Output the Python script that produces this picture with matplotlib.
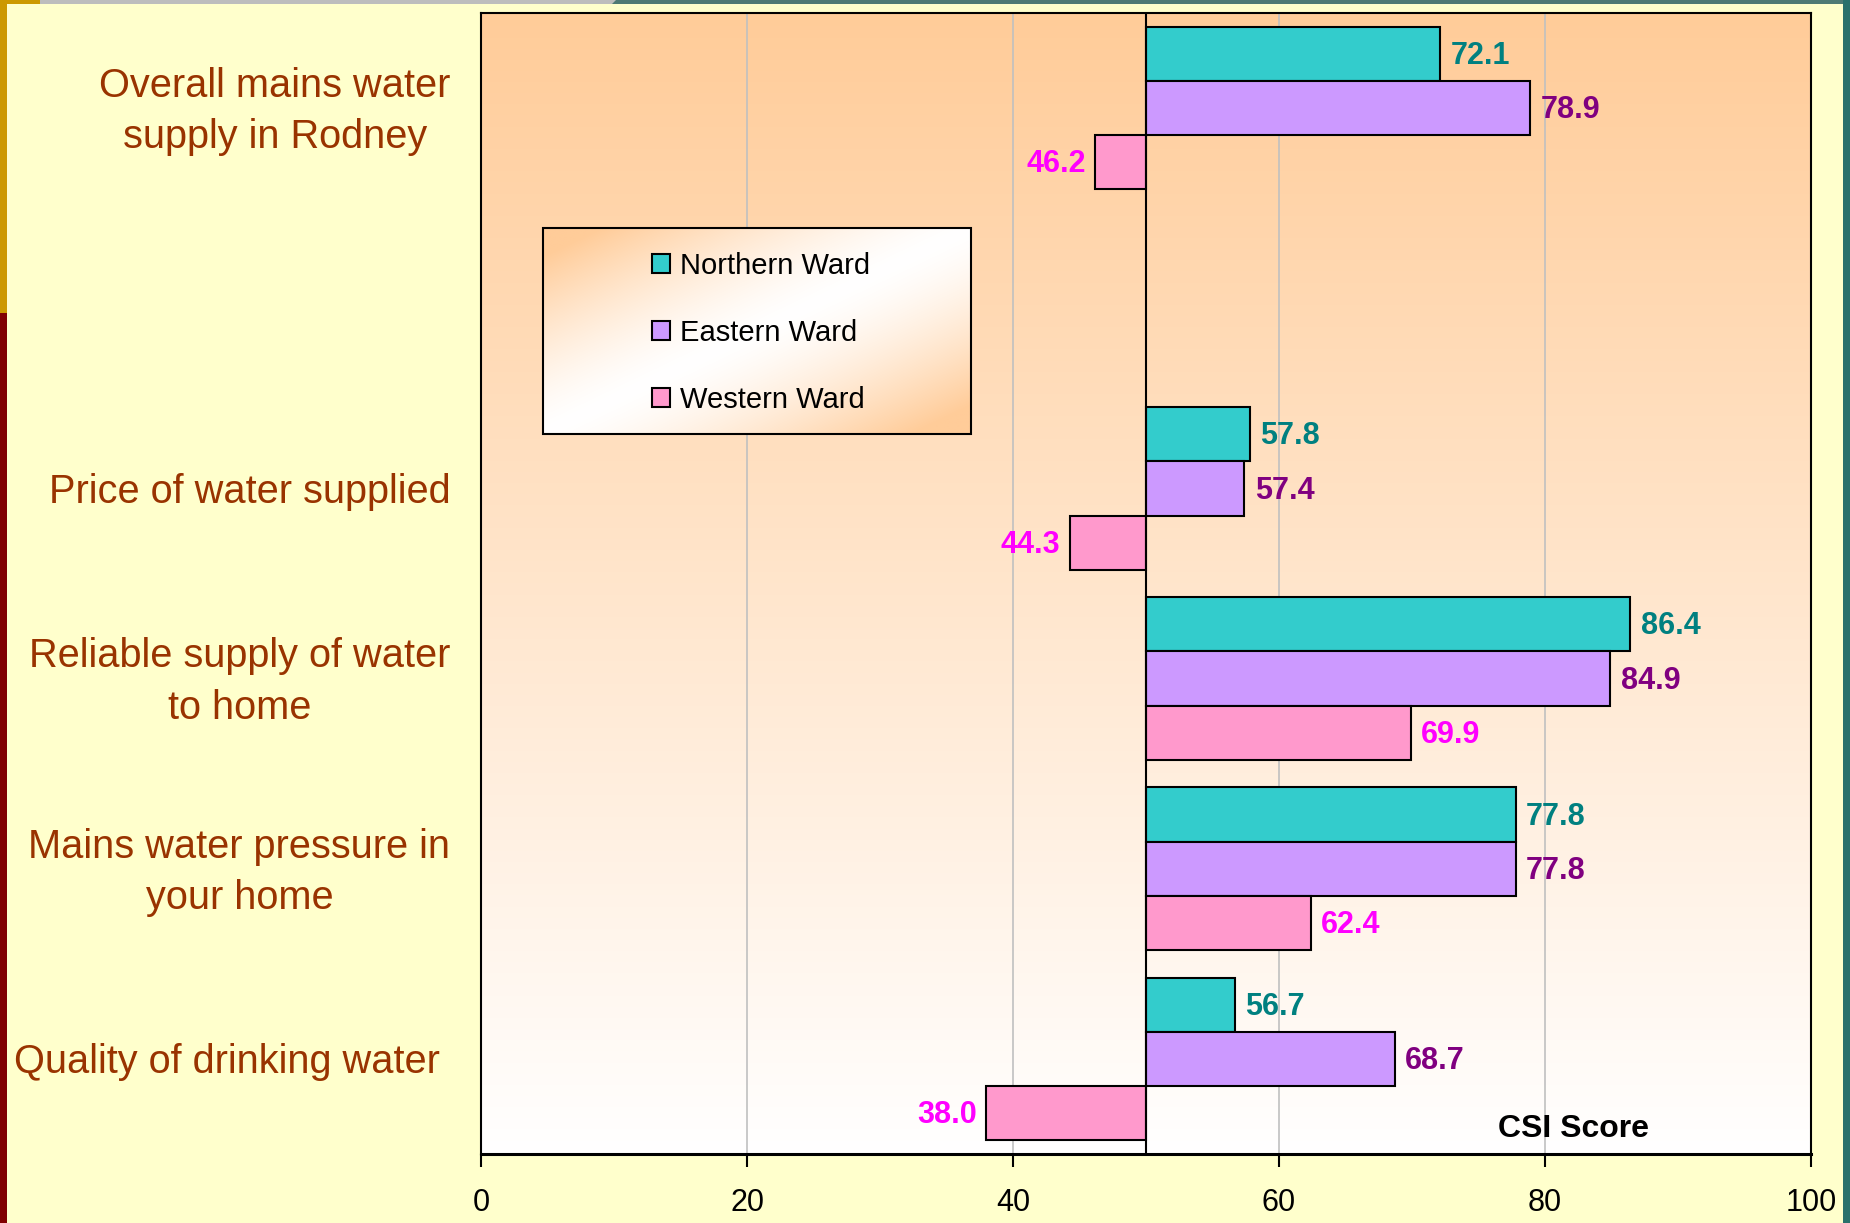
import numpy as np
import matplotlib
matplotlib.use("Agg")
import matplotlib.pyplot as plt
from matplotlib.patches import Rectangle, Patch, Polygon
from matplotlib.colors import to_rgb
from matplotlib.transforms import ScaledTranslation

plt.rcParams['font.family'] = ['Liberation Sans', 'DejaVu Sans']

# ---- data ----
categories = [
    "Overall mains water\nsupply in Rodney",
    "",
    "Price of water supplied",
    "Reliable supply of water\nto home",
    "Mains water pressure in\nyour home",
    "Quality of drinking water ",
]
series_names = ["Northern Ward", "Eastern Ward", "Western Ward"]
northern = [72.1, None, 57.8, 86.4, 77.8, 56.7]
eastern = [78.9, None, 57.4, 84.9, 77.8, 68.7]
western = [46.2, None, 44.3, 69.9, 62.4, 38.0]
x_ticks = [0, 20, 40, 60, 80, 100]
baseline = 50

bar_colors = ["#33CCCC", "#CC99FF", "#FF99CC"]
label_colors = ["#008080", "#800080", "#FF00FF"]
cat_color = "#993300"

W, H = 1850, 1223
fig = plt.figure(figsize=(W / 100, H / 100), dpi=100, facecolor="#FFFFCC")

# slide decorations
fig.patches.append(Rectangle((0, 0), 7 / W, 1 - 313 / H, transform=fig.transFigure,
                             facecolor="#800000", edgecolor="none"))
fig.patches.append(Rectangle((0, 1 - 313 / H), 7 / W, 313 / H, transform=fig.transFigure,
                             facecolor="#CC9900", edgecolor="none"))
fig.patches.append(Rectangle((0, 1 - 4 / H), 40 / W, 4 / H, transform=fig.transFigure,
                             facecolor="#CC9900", edgecolor="none"))
fig.patches.append(Rectangle((40 / W, 1 - 4 / H), 580 / W, 4 / H, transform=fig.transFigure,
                             facecolor="#BDBDBD", edgecolor="none"))
fig.patches.append(Polygon([(612 / W, 1 - 4 / H), (616 / W, 1), (1, 1), (1, 1 - 4 / H)],
                           closed=True, transform=fig.transFigure,
                           facecolor="#4E7A74", edgecolor="none"))
fig.patches.append(Rectangle((1843 / W, 0), 7 / W, 1, transform=fig.transFigure,
                             facecolor="#2A716C", edgecolor="none"))

ax_l, ax_r, ax_t, ax_b = 481, 1811, 13, 1154
ax = fig.add_axes([ax_l / W, 1 - ax_b / H, (ax_r - ax_l) / W, (ax_b - ax_t) / H])

# vertical peach-to-white gradient in the plot area
top_c = np.array(to_rgb("#FFCC99"))
bot_c = np.array(to_rgb("#FFFFFF"))
t = np.linspace(0, 1, 256)[:, None]
grad = top_c[None, None, :] * (1 - t[..., None]) + bot_c[None, None, :] * t[..., None]
grad = np.repeat(grad, 2, axis=1)
ax.imshow(grad, extent=[0, 1, 0, 1], transform=ax.transAxes, aspect="auto",
          origin="upper", zorder=0, interpolation="bilinear")

n = len(categories)
y = np.arange(n)
bh = 0.285
offsets = [-bh, 0, bh]

for vals, off, bc, lc in zip([northern, eastern, western], offsets, bar_colors, label_colors):
    for yi, v in zip(y, vals):
        if v is None:
            continue
        ax.barh(yi + off, v - baseline, left=baseline, height=bh, color=bc,
                edgecolor="black", linewidth=1.5, zorder=3)
        if v >= baseline:
            ax.annotate(f"{v:.1f}", (v, yi + off), xytext=(7.5, -1.5), textcoords="offset points",
                        ha="left", va="center", fontsize=22, fontweight="bold", color=lc, zorder=4)
        else:
            ax.annotate(f"{v:.1f}", (v, yi + off), xytext=(-7, -1.5), textcoords="offset points",
                        ha="right", va="center", fontsize=22, fontweight="bold", color=lc, zorder=4)

ax.axvline(baseline, color="black", linewidth=1.5, zorder=3.5)

ax.set_xlim(0, 100)
ax.set_ylim(n - 0.5, -0.5)
ax.set_xticks(x_ticks)
ax.set_xticklabels([str(v) for v in x_ticks])
ax.set_yticks(y)
ax.set_yticklabels(categories)
ax.tick_params(axis="y", length=0, pad=22, labelsize=28.6, labelcolor=cat_color)
ax.tick_params(axis="x", length=9, width=1.5, direction="out", pad=15.5, labelsize=22)
shift_down = ScaledTranslation(0, -3.5 / 100, fig.dpi_scale_trans)
for lab in ax.get_yticklabels():
    lab.set_multialignment("center")
    lab.set_linespacing(1.45)
    lab.set_verticalalignment("center")
    lab.set_transform(lab.get_transform() + shift_down)

ax.grid(axis="x", color="#C0C0C0", linewidth=1.2)
ax.set_axisbelow(True)
for s in ax.spines.values():
    s.set_linewidth(1.5)
    s.set_zorder(5)
ax.spines["bottom"].set_linewidth(2.2)

ax.text(87.8, 0.022, "CSI Score", transform=ax.get_xaxis_transform(), ha="right",
        va="center", fontsize=23, fontweight="bold", color="black", zorder=4)

# legend box with a diagonal gradient
lx0, lx1 = (543 - ax_l) / (ax_r - ax_l), (971 - ax_l) / (ax_r - ax_l)
ly0, ly1 = (ax_b - 434) / (ax_b - ax_t), (ax_b - 228) / (ax_b - ax_t)
u = np.linspace(0, 1, 200)[None, :]
v = np.linspace(1, 0, 120)[:, None]
d = np.clip(np.abs(u - v) * 1.15, 0, 1) ** 1.4
peach = np.array(to_rgb("#FFCC99"))
white = np.array([1.0, 1.0, 1.0])
lg = white[None, None, :] * (1 - d[..., None]) + peach[None, None, :] * d[..., None]
ax.imshow(lg, extent=[lx0, lx1, ly0, ly1], transform=ax.transAxes, aspect="auto",
          origin="upper", zorder=6, interpolation="bilinear")
ax.add_patch(Rectangle((lx0, ly0), lx1 - lx0, ly1 - ly0, transform=ax.transAxes,
                       facecolor="none", edgecolor="black", linewidth=1.5, zorder=7))
handles = [Patch(facecolor=c, edgecolor="black", linewidth=1.5) for c in bar_colors]
leg = ax.legend(handles, series_names, loc="center",
                bbox_to_anchor=((lx0 + lx1) / 2 + 0.003, (ly0 + ly1) / 2 - 0.0015),
                frameon=False, fontsize=21, handlelength=0.62, handleheight=0.62,
                handletextpad=0.35, labelspacing=1.33)
leg.set_zorder(8)

ax.set_xlim(0, 100)
ax.set_ylim(n - 0.5, -0.5)

fig.savefig("out.png", dpi=100, facecolor=fig.get_facecolor())
